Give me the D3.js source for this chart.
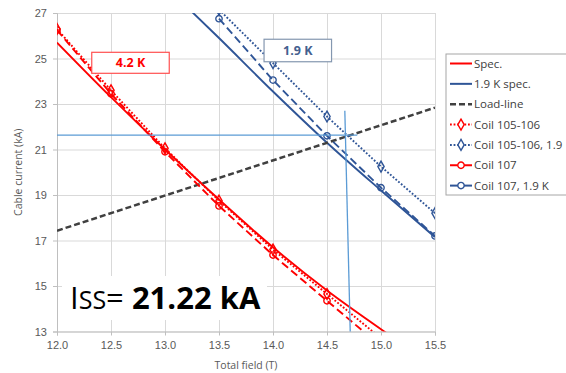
<!DOCTYPE html>
<meta charset="utf-8">
<title>Iss</title>
<style>
body { margin: 0; background: #fff; }
svg { display: block; font-family: "Open Sans", sans-serif; }
.grid line { stroke: #d9d9d9; stroke-width: 1; }
.tick text { fill: #595959; font-size: 11px; }
.legend text { fill: #404040; font-size: 11.5px; }
</style>
<body>
<svg width="566" height="373"></svg>
<script src="https://cdn.jsdelivr.net/npm/d3@7"></script>
<script>

// fields in T
var fields = [12.0, 12.5, 13.0, 13.5, 14.0, 14.5, 15.0, 15.5];

// cable currents in kA (null = no point)
var spec42      = [25.7, 23.3, 21.0, 18.8, 16.7, 14.8, 13.1, 11.5];
var spec19      = [null, null, 28.2, 25.9, 23.55, 21.3, 19.2, 17.15];
var loadLine    = [17.43, null, null, null, null, null, null, 22.84];
var coil105     = [26.3, 23.6, 21.05, 18.75, 16.6, 14.65, 12.7, null];
var coil105_19  = [null, null, null, 27.15, 24.8, 22.45, 20.25, 18.2];
var coil107     = [26.25, 23.45, 20.9, 18.52, 16.36, 14.35, 12.35, null];
var coil107_19  = [null, null, null, 26.75, 24.05, 21.6, 19.32, 17.2];

var xTicks = [12.0, 12.5, 13.0, 13.5, 14.0, 14.5, 15.0, 15.5];
var yTicks = [13, 15, 17, 19, 21, 23, 25, 27];

// hand-drawn guide lines: [field, current]
var hGuide = [[12.0, 21.63], [14.78, 21.63]];
var vGuide = [[14.665, 22.7], [14.715, 13]];

var red = "#ff0000", blue = "#2f5597", guide = "#5b9bd5";

// legend text of the 5th entry is cut by the page edge in the original
var series = [
  {name: "Spec.",             vals: spec42,     color: red,  dash: null,  marker: null},
  {name: "1.9 K spec.",       vals: spec19,     color: blue, dash: null,  marker: null},
  {name: "Load-line",         vals: loadLine,   color: "#404040", dash: "6,3", marker: null, width: 2.5},
  {name: "Coil 105-106",      vals: coil105,    color: red,  dash: "1.8,1.8", marker: "diamond"},
  {name: "Coil 105-106, 1.9", vals: coil105_19, color: blue, dash: "1.8,1.8", marker: "diamond"},
  {name: "Coil 107",          vals: coil107,    color: red,  dash: "8,4", marker: "circle"},
  {name: "Coil 107, 1.9 K",   vals: coil107_19, color: blue, dash: "8,4", marker: "circle"}
];

var svg = d3.select("svg");
var pL = 57, pR = 435, pT = 13, pB = 331.5;

var x = d3.scaleLinear().domain([12, 15.5]).range([pL, pR]);
var y = d3.scaleLinear().domain([13, 27]).range([pB, pT]);

svg.append("defs").append("clipPath").attr("id", "plot")
  .append("rect").attr("x", pL).attr("y", pT)
  .attr("width", pR - pL).attr("height", pB - pT);

// grid
svg.append("g").attr("class", "grid")
  .attr("transform", "translate(0," + pB + ")")
  .call(d3.axisBottom(x).tickValues(xTicks).tickSize(-(pB - pT)).tickFormat(""))
  .call(function(g) { g.select(".domain").remove(); });
svg.append("g").attr("class", "grid")
  .attr("transform", "translate(" + pL + ",0)")
  .call(d3.axisLeft(y).tickValues(yTicks).tickSize(-(pR - pL)).tickFormat(""))
  .call(function(g) { g.select(".domain").remove(); });

// axes
var xAxis = svg.append("g")
  .attr("transform", "translate(0," + pB + ")")
  .call(d3.axisBottom(x).tickValues(xTicks).tickSize(4).tickPadding(6).tickFormat(d3.format(".1f")));
var yAxis = svg.append("g")
  .attr("transform", "translate(" + pL + ",0)")
  .call(d3.axisLeft(y).tickValues(yTicks).tickSize(4).tickPadding(6));
[xAxis, yAxis].forEach(function(a) {
  a.selectAll(".domain, .tick line").attr("stroke", "#bfbfbf");
});

var plot = svg.append("g").attr("clip-path", "url(#plot)");

var line = d3.line()
  .defined(function(d) { return d[1] != null; })
  .x(function(d) { return x(d[0]); })
  .y(function(d) { return y(d[1]); });

var lineC = d3.line()
  .defined(function(d) { return d[1] != null; })
  .x(function(d) { return x(d[0]); })
  .y(function(d) { return y(d[1]); })
  .curve(d3.curveMonotoneX);

function pts(vals) {
  return fields.map(function(f, i) { return [f, vals[i]]; }).filter(function(d) { return d[1] != null; });
}

function markerPath(type) {
  return d3.symbol().type(type == "diamond" ? d3.symbolDiamond : d3.symbolCircle).size(type == "diamond" ? 34 : 32)();
}

series.forEach(function(s) {
  var p = pts(s.vals);
  plot.append("path")
    .attr("d", s.marker ? line(p) : lineC(p))
    .attr("fill", "none")
    .attr("stroke", s.color)
    .attr("stroke-width", s.width || 1.9)
    .attr("stroke-dasharray", s.dash);
  if (s.marker) {
    plot.selectAll(null).data(p).enter().append("path")
      .attr("d", markerPath(s.marker))
      .attr("transform", function(d) { return "translate(" + x(d[0]) + "," + y(d[1]) + ")"; })
      .attr("fill", "none")
      .attr("stroke", s.color)
      .attr("stroke-width", 1.4);
  }
});

// guide lines
svg.append("path").attr("d", line(hGuide)).attr("stroke", guide).attr("stroke-width", 1.3).attr("fill", "none");
svg.append("path").attr("d", line(vGuide)).attr("stroke", guide).attr("stroke-width", 1.3).attr("fill", "none");

// temperature labels
function tag(cx, cy, w, h, label, stroke, color) {
  svg.append("rect").attr("x", cx - w / 2).attr("y", cy - h / 2).attr("width", w).attr("height", h)
    .attr("fill", "#fff").attr("stroke", stroke).attr("stroke-width", 1.2);
  svg.append("text").attr("x", cx).attr("y", cy).attr("dy", "0.36em")
    .attr("text-anchor", "middle").attr("font-size", 12.5).attr("font-weight", "bold")
    .attr("fill", color).text(label);
}
tag(130.5, 62.8, 77.5, 21, "4.2 K", "#ff5050", red);
tag(297.8, 50.5, 67.5, 22.5, "1.9 K", "#8497b0", "#44608f");

// Iss text
svg.append("rect").attr("x", 62).attr("y", 276).attr("width", 205).attr("height", 44).attr("fill", "#fff");
var iss = svg.append("text").attr("x", 70).attr("y", 308.5).attr("font-size", 31).attr("fill", "#000");
iss.append("tspan").text("I");
iss.append("tspan").style("font-variant", "small-caps").attr("font-size", 35).text("ss");
iss.append("tspan").text("= ");
iss.append("tspan").attr("font-weight", "bold").text("21.22 kA");

// axis titles
svg.append("text").attr("x", 246).attr("y", 369).attr("text-anchor", "middle")
  .attr("font-size", 10.5).attr("fill", "#595959").text("Total field  (T)");
svg.append("text").attr("transform", "translate(22," + ((pT + pB) / 2) + ") rotate(-90)")
  .attr("text-anchor", "middle").attr("font-size", 10.5).attr("fill", "#595959").text("Cable current (kA)");

// legend
var lg = svg.append("g").attr("class", "legend");
lg.append("rect").attr("x", 446).attr("y", 54).attr("width", 140).attr("height", 141)
  .attr("fill", "#fff").attr("stroke", "#a6a6a6");
series.forEach(function(s, i) {
  var ly = 63.5 + i * 20.35;
  lg.append("line").attr("x1", 450).attr("x2", 472).attr("y1", ly).attr("y2", ly)
    .attr("stroke", s.color).attr("stroke-width", s.width || 2)
    .attr("stroke-dasharray", s.dash == "8,4" ? null : s.dash);
  if (s.marker) {
    lg.append("path").attr("d", markerPath(s.marker))
      .attr("transform", "translate(461," + ly + ")")
      .attr("fill", "#fff").attr("stroke", s.color).attr("stroke-width", 1.4);
  }
  lg.append("text").attr("x", 474).attr("y", ly).attr("dy", "0.35em").text(s.name);
});

</script>
</body>
